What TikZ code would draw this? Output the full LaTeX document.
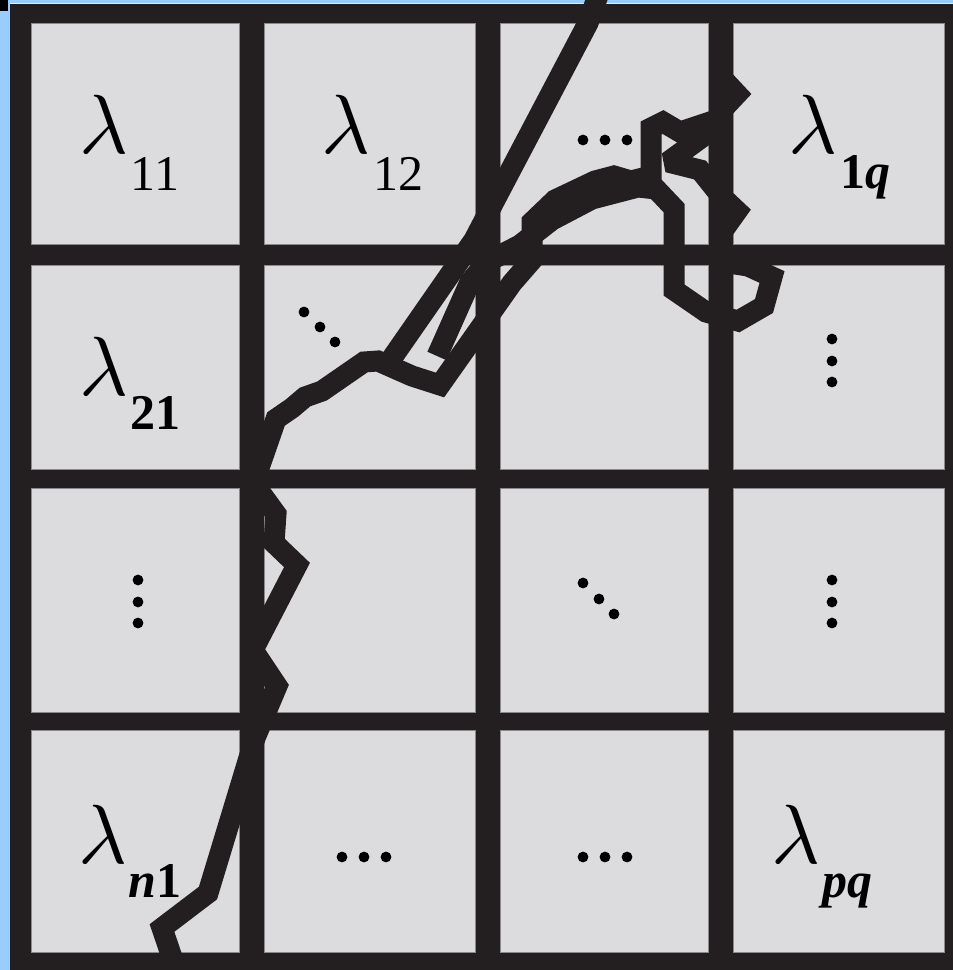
\documentclass[tikz,border=0pt]{standalone}
\usepackage{fontspec}
\setmainfont{Liberation Serif}
\definecolor{ink}{HTML}{231F20}
\definecolor{cellgray}{HTML}{DCDCDE}
\definecolor{bgblue}{HTML}{99CCFF}
\definecolor{celledge}{HTML}{8A8A8C}
\begin{document}
\begin{tikzpicture}[x=1pt,y=-1pt,
  cellbox/.style={fill=cellgray, draw=celledge, line width=0.8pt},
  scribble/.style={draw=ink, line width=21pt, line join=miter, miter limit=2.2},
  lam/.style={inner sep=0pt, anchor=base},
  subs/.style={font=\fontsize{50}{50}\selectfont, inner sep=0pt, anchor=base},
  dotfill/.style={fill=black}]
\useasboundingbox (0,0) rectangle (953,970);
% background and frame
\fill[bgblue] (0,0) rectangle (953,970);
\fill[black] (0,0) rectangle (8,11);
\fill[ink] (10,4) rectangle (953,970);
\draw[white!85!gray, line width=1pt] (10,3.5) -- (953,3.5);
% cells
\foreach \xa/\xb in {31/239,264/475,500/708,733/944}{
  \foreach \ya/\yb in {23/244,265/469,488/712,730/952}{
    \path[cellbox] (\xa,\ya) rectangle (\xb,\yb);
  }
}
% lambda labels
\node[lam] (l11) at (104,153) {\scalebox{8.4}{$\lambda$}};
\node[lam] (l12) at (346,153) {\scalebox{8.4}{$\lambda$}};
\node[lam] (l1q) at (813,153) {\scalebox{8.4}{$\lambda$}};
\node[lam] (l21) at (104,395) {\scalebox{8.4}{$\lambda$}};
\node[lam] (ln1) at (103,863) {\scalebox{8.4}{$\lambda$}};
\node[lam] (lpq) at (796,863) {\scalebox{8.4}{$\lambda$}};
% subscripts
\node[subs] (s11) at (155,190) {11};
\node[subs] (s12) at (398,190) {12};
\node[subs] (s1q) at (865,188) {\textbf{1\textit{q}}};
\node[subs] (s21) at (155,429) {\textbf{21}};
\node[subs] (sn1) at (155,897) {\textbf{\textit{n}1}};
\node[subs] (spq) at (847,897) {\textbf{\textit{pq}}};
% dots
\foreach \p in {(583,140),(605,140),(627,140),
                (304,312),(320,327),(335,342),
                (832,339),(832,361),(832,382),
                (138,580),(138,602),(138,623),
                (583,583),(599,599),(614,614),
                (832,580),(832,602),(832,623),
                (342,857),(364,857),(386,857),
                (583,857),(605,857),(627,857)}{
  \fill[dotfill] \p circle (5.4pt);
}
% scribble
\draw[scribble] (178,975) -- (162,928) -- (208,893) -- (255,738) -- (277,686)
  -- (253,650) -- (297,565) -- (274,543) -- (276,514) -- (260,492) -- (259,468)
  -- (276,419) -- (292,408) -- (305,397) -- (322,391) -- (364,362) -- (378,361)
  -- (412,376) -- (440,385) -- (512,283) -- (532,260) -- (532,222) -- (555,200)
  -- (595,181) -- (614,176) -- (631,181) -- (651,176) -- (651,128) -- (663,122)
  -- (680,132) -- (716,120);
\draw[scribble] (600,-10) -- (588,23) -- (497,196) -- (474,240) -- (392,358);
\draw[scribble] (437,356) -- (470,282) -- (487,262) -- (520,245) -- (552,220)
  -- (592,199) -- (638,187) -- (656,189) -- (674,208) -- (674,290) -- (706,312)
  -- (738,321) -- (764,306) -- (772,277) -- (748,266) -- (722,262) -- (722,232)
  -- (737,211) -- (720,195) -- (700,170) -- (668,162) -- (712,130) -- (722,110)
  -- (737,94) -- (722,78);
\end{tikzpicture}
\end{document}
